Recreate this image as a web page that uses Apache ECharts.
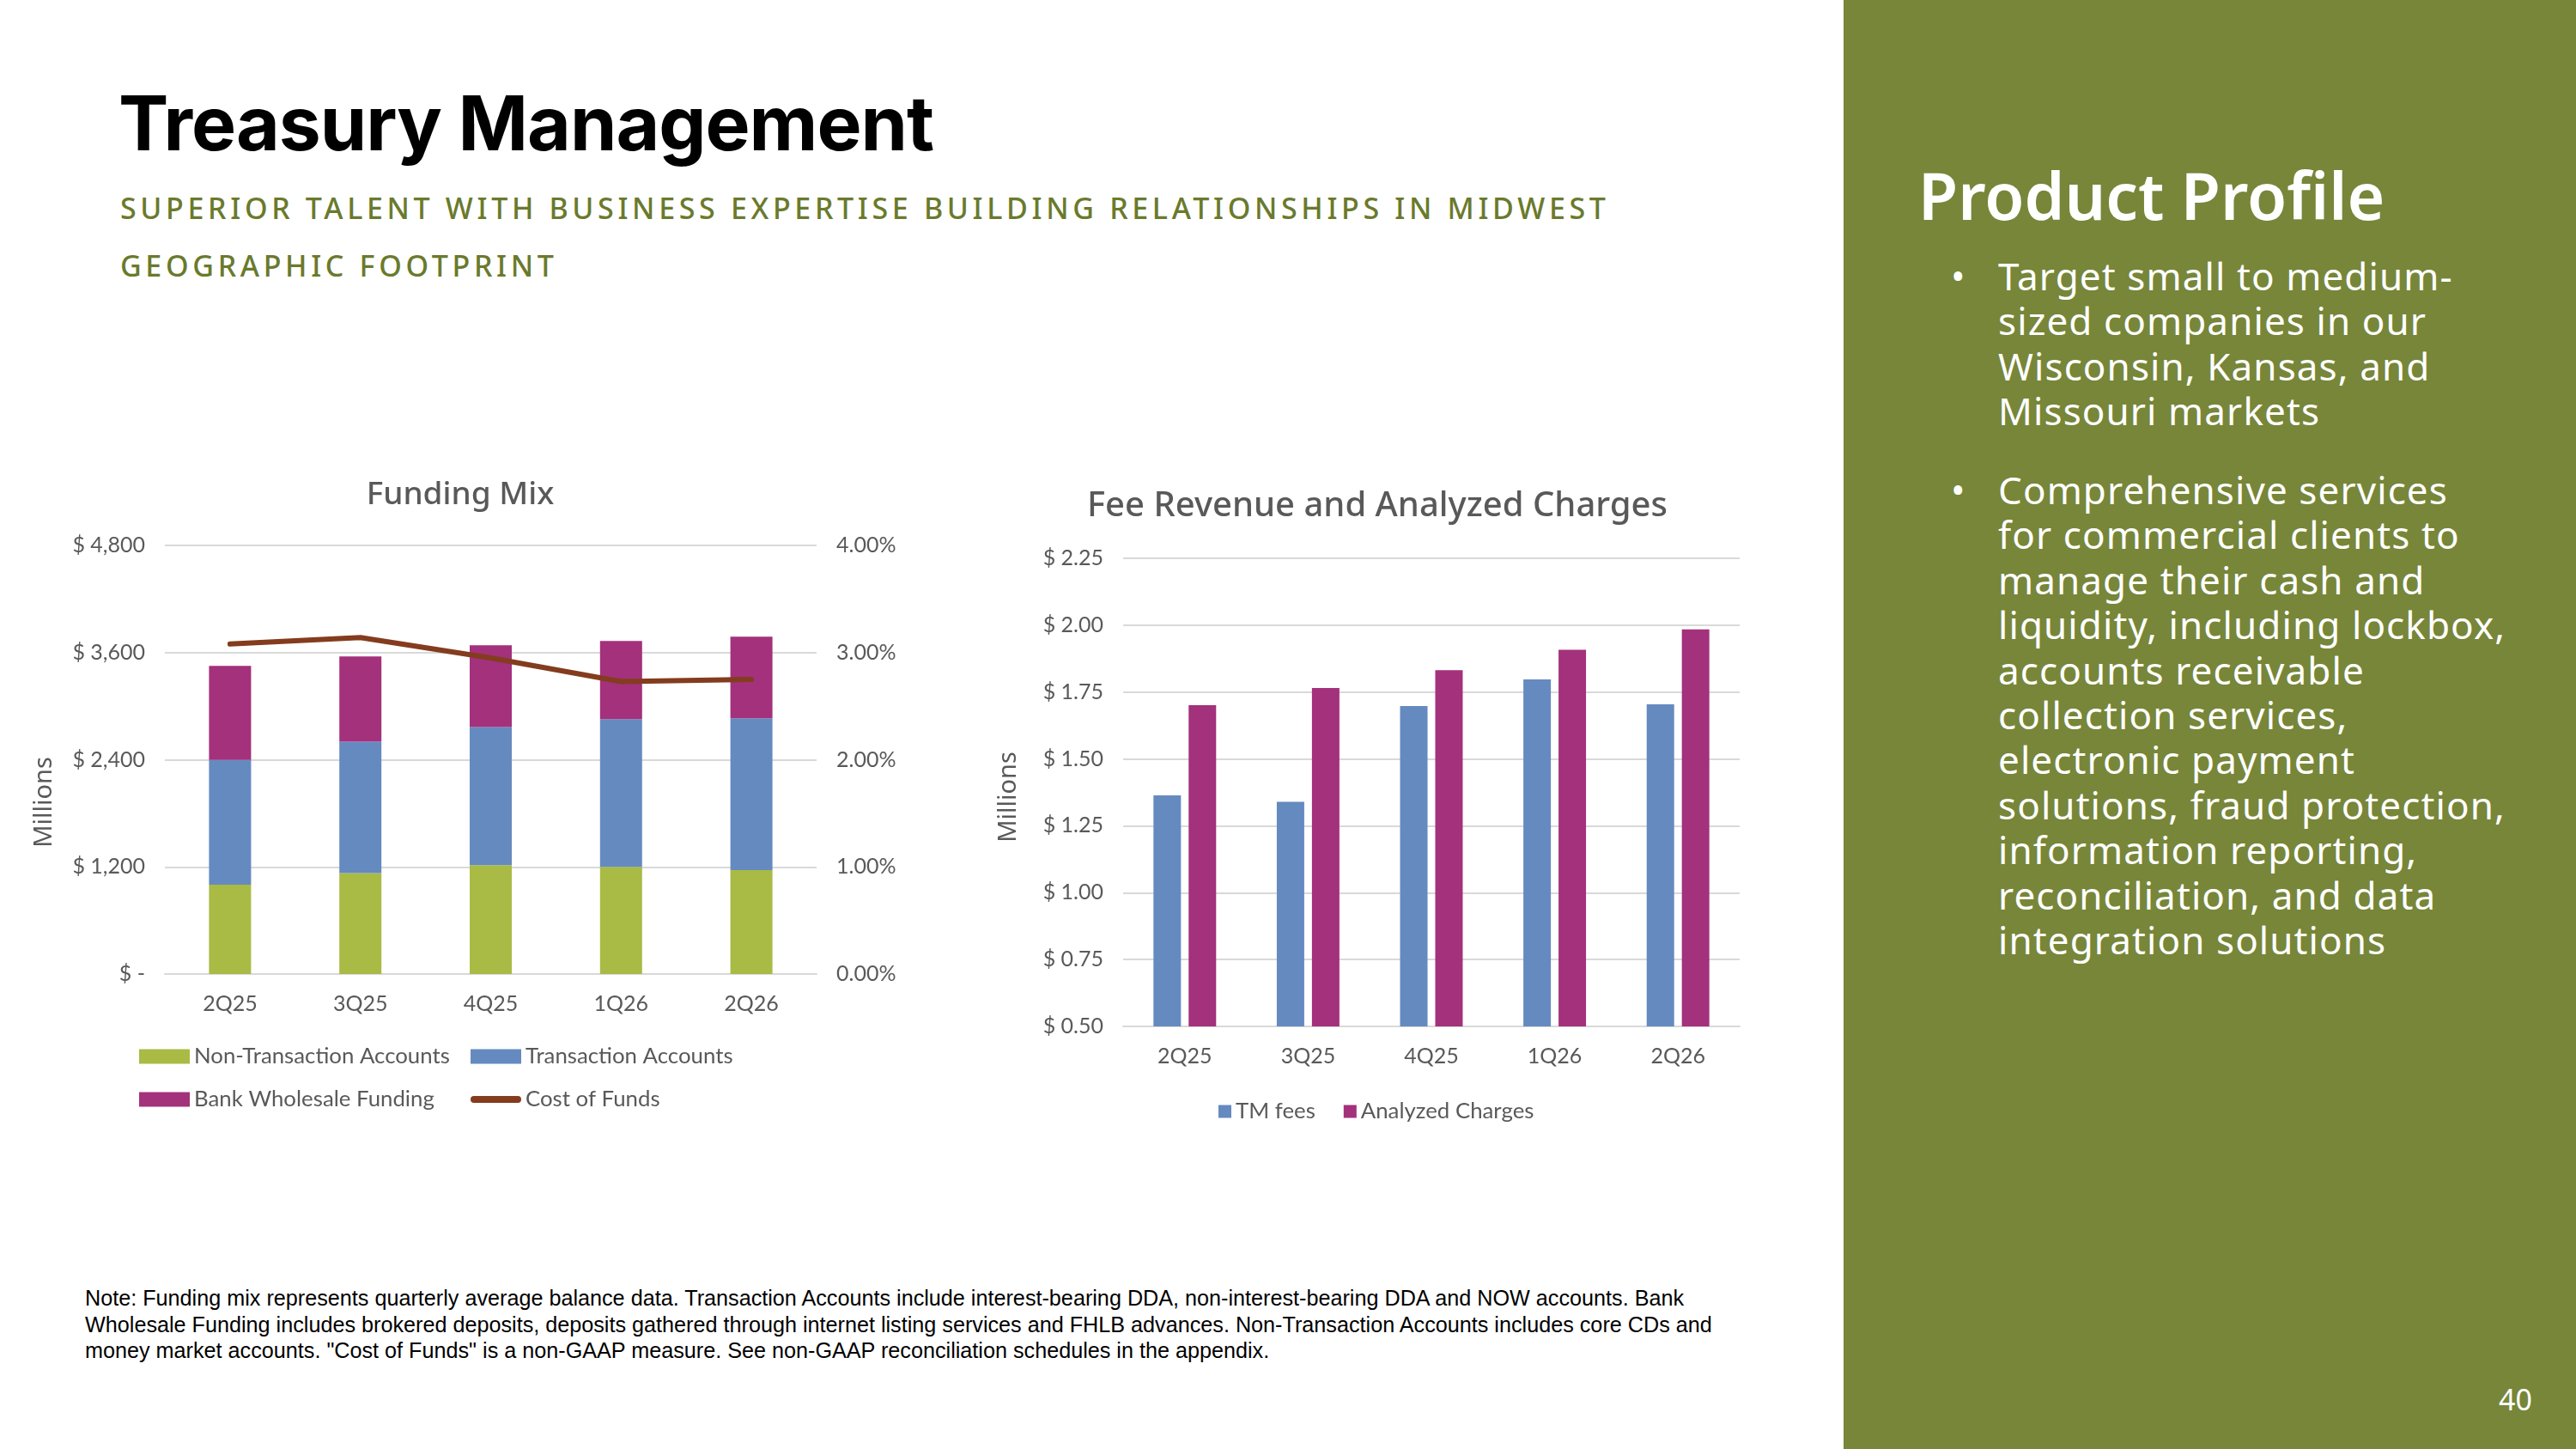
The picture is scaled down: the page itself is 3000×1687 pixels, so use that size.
<!DOCTYPE html>
<html>
<head>
<meta charset="utf-8">
<script src="https://cdn.jsdelivr.net/npm/echarts@6/dist/echarts.min.js"></script>
<style>
  html, body { margin:0; padding:0; width:3000px; height:1687px; background:#fff; overflow:hidden; }
  #panel { position:absolute; left:2147px; top:0; width:853px; height:1687px; background:#778639; }
  #chart { position:absolute; left:0; top:0; width:3000px; height:1687px; }
  .txt { position:absolute; white-space:nowrap; }
  #title { left:138px; top:100px; font-family:Inter, "Noto Sans", sans-serif; font-weight:700; font-size:87.5px; line-height:1; color:#000; letter-spacing:-1px; }
  #sub { left:140px; top:209px; font-family:"Noto Sans", sans-serif; font-weight:500; font-size:34px; line-height:67px; color:#6A7A2C; letter-spacing:4.65px; }
  #pp { left:2234px; top:190px; font-family:"Noto Sans", sans-serif; font-weight:600; font-size:75px; line-height:1; color:#fff; }
  .bul { left:2327px; font-family:"Noto Sans", sans-serif; font-size:44px; line-height:52.4px; color:#fff; letter-spacing:1.1px; }
  .dot { left:2272px; font-family:"Noto Sans", sans-serif; font-size:44px; line-height:52.4px; color:#fff; }
  #note { left:99px; top:1496px; font-family:"Liberation Sans", Arial, sans-serif; font-size:25.2px; line-height:30.6px; color:#000; }
  #pg { left:2910px; top:1612px; font-family:"Noto Sans", sans-serif; font-size:34px; line-height:1; color:#fff; }
</style>
</head>
<body>
<div id="panel"></div>
<div class="txt" id="title">Treasury Management</div>
<div class="txt" id="sub">SUPERIOR TALENT WITH BUSINESS EXPERTISE BUILDING RELATIONSHIPS IN MIDWEST<br>GEOGRAPHIC FOOTPRINT</div>
<div class="txt" id="pp">Product Profile</div>
<div class="txt dot" style="top:295px">•</div>
<div class="txt bul" style="top:295px">Target small to medium-<br>sized companies in our<br>Wisconsin, Kansas, and<br>Missouri markets</div>
<div class="txt dot" style="top:544px">•</div>
<div class="txt bul" style="top:544px">Comprehensive services<br>for commercial clients to<br>manage their cash and<br>liquidity, including lockbox,<br>accounts receivable<br>collection services,<br>electronic payment<br>solutions, fraud protection,<br>information reporting,<br>reconciliation, and data<br>integration solutions</div>
<div class="txt" id="note">Note: Funding mix represents quarterly average balance data. Transaction Accounts include interest-bearing DDA, non-interest-bearing DDA and NOW accounts. Bank<br>Wholesale Funding includes brokered deposits, deposits gathered through internet listing services and FHLB advances. Non-Transaction Accounts includes core CDs and<br>money market accounts. "Cost of Funds" is a non-GAAP measure. See non-GAAP reconciliation schedules in the appendix.</div>
<div class="txt" id="pg">40</div>
<div id="chart"></div>
<script>
// ---- data ----
const quarters = ['2Q25', '3Q25', '4Q25', '1Q26', '2Q26'];
const nonTransaction = [1000, 1130, 1220, 1200, 1165];
const transaction = [1398, 1472, 1546, 1654, 1698];
const wholesale = [1054, 955, 916, 877, 916];
const costOfFunds = [3.08, 3.14, 2.95, 2.73, 2.75];
const tmFees = [1.364, 1.340, 1.698, 1.797, 1.704];
const analyzedCharges = [1.701, 1.765, 1.832, 1.908, 1.984];
const fundingTicks = [0, 1200, 2400, 3600, 4800];
const cofTicks = [0, 1, 2, 3, 4];
const feeTicks = [0.5, 0.75, 1.0, 1.25, 1.5, 1.75, 2.0, 2.25];

// ---- styles ----
const C_GREEN = '#A9BB45', C_BLUE = '#658AC0', C_MAG = '#A3317C', C_BROWN = '#843C1E';
const AX_FONT = 'Lato, "Open Sans", sans-serif';
const AX_COL = '#595959';
const GRID_COL = '#D9D9D9';

const chart = echarts.init(document.getElementById('chart'), null, {renderer: 'canvas'});

function catAxis(gridIndex, margin) {
  return {
    type: 'category', gridIndex, data: quarters,
    axisLine: {show: true, lineStyle: {color: GRID_COL, width: 2}},
    axisTick: {show: false},
    axisLabel: {color: AX_COL, fontFamily: AX_FONT, fontSize: 25, margin}
  };
}

const legendText = {color: AX_COL, fontFamily: AX_FONT, fontSize: 25.8};

chart.setOption({
  animation: false,
  backgroundColor: 'transparent',
  graphic: [
    {type: 'text', x: 536, y: 576, style: {text: 'Funding Mix', textAlign: 'center', textVerticalAlign: 'middle',
      font: '500 37px "Noto Sans", sans-serif', fill: '#595959'}},
    {type: 'text', x: 1604, y: 590, style: {text: 'Fee Revenue and Analyzed Charges', textAlign: 'center', textVerticalAlign: 'middle',
      font: '500 40px "Noto Sans", sans-serif', fill: '#595959'}},
    {type: 'text', x: 52, y: 934, rotation: Math.PI / 2, style: {text: 'Millions', textAlign: 'center', textVerticalAlign: 'middle',
      font: '29px "Noto Sans", sans-serif', fill: '#595959'}},
    {type: 'text', x: 1175, y: 928, rotation: Math.PI / 2, style: {text: 'Millions', textAlign: 'center', textVerticalAlign: 'middle',
      font: '29px "Noto Sans", sans-serif', fill: '#595959'}}
  ],
  grid: [
    {left: 192, top: 635, width: 759, height: 499},
    {left: 1308, top: 650, width: 718, height: 545}
  ],
  xAxis: [catAxis(0, 22), catAxis(1, 22)],
  yAxis: [
    {type: 'value', gridIndex: 0, min: fundingTicks[0], max: fundingTicks[fundingTicks.length - 1], interval: 1200,
     axisLine: {show: false}, axisTick: {show: false},
     splitLine: {lineStyle: {color: GRID_COL, width: 2}},
     axisLabel: {color: AX_COL, fontFamily: AX_FONT, fontSize: 25, margin: 23,
       formatter: v => v === 0 ? '$ -' : '$ ' + v.toLocaleString('en-US')}},
    {type: 'value', gridIndex: 0, position: 'right', min: cofTicks[0], max: cofTicks[cofTicks.length - 1], interval: 1,
     axisLine: {show: false}, axisTick: {show: false}, splitLine: {show: false},
     axisLabel: {color: AX_COL, fontFamily: AX_FONT, fontSize: 25, margin: 23,
       formatter: v => v.toFixed(2) + '%'}},
    {type: 'value', gridIndex: 1, min: feeTicks[0], max: feeTicks[feeTicks.length - 1], interval: 0.25,
     axisLine: {show: false}, axisTick: {show: false},
     splitLine: {lineStyle: {color: GRID_COL, width: 2}},
     axisLabel: {color: AX_COL, fontFamily: AX_FONT, fontSize: 25, margin: 23,
       formatter: v => '$ ' + v.toFixed(2)}}
  ],
  legend: [
    {left: 157, top: 1212, itemWidth: 59, itemHeight: 17, itemGap: 0, icon: 'rect', textStyle: legendText,
     data: ['Non-Transaction Accounts']},
    {left: 543, top: 1212, itemWidth: 59, itemHeight: 17, itemGap: 0, icon: 'rect', textStyle: legendText,
     data: ['Transaction Accounts']},
    {left: 157, top: 1262, itemWidth: 59, itemHeight: 17, itemGap: 0, icon: 'rect', textStyle: legendText,
     data: ['Bank Wholesale Funding']},
    {left: 543, top: 1262, itemWidth: 59, itemHeight: 8, itemGap: 0,
     icon: 'path://M4,0 H56 A4,4 0 0 1 56,8 H4 A4,4 0 0 1 4,0 Z', textStyle: legendText,
     data: ['Cost of Funds']},
    {left: 1414, top: 1276, itemWidth: 15, itemHeight: 15, itemGap: 33, icon: 'rect', textStyle: legendText,
     data: ['TM fees', 'Analyzed Charges']}
  ],
  series: [
    {name: 'Non-Transaction Accounts', type: 'bar', stack: 'fund', xAxisIndex: 0, yAxisIndex: 0,
     barWidth: 49, itemStyle: {color: C_GREEN}, data: nonTransaction},
    {name: 'Transaction Accounts', type: 'bar', stack: 'fund', xAxisIndex: 0, yAxisIndex: 0,
     barWidth: 49, itemStyle: {color: C_BLUE}, data: transaction},
    {name: 'Bank Wholesale Funding', type: 'bar', stack: 'fund', xAxisIndex: 0, yAxisIndex: 0,
     barWidth: 49, itemStyle: {color: C_MAG}, data: wholesale},
    {name: 'Cost of Funds', type: 'line', xAxisIndex: 0, yAxisIndex: 1, symbol: 'none',
     lineStyle: {color: C_BROWN, width: 6, cap: 'round', join: 'round'}, itemStyle: {color: C_BROWN},
     data: costOfFunds, z: 5},
    {name: 'TM fees', type: 'bar', xAxisIndex: 1, yAxisIndex: 2, barWidth: 32, barGap: '28%',
     itemStyle: {color: C_BLUE}, data: tmFees},
    {name: 'Analyzed Charges', type: 'bar', xAxisIndex: 1, yAxisIndex: 2, barWidth: 32, barGap: '28%',
     itemStyle: {color: C_MAG}, data: analyzedCharges}
  ]
});
</script>
</body>
</html>
